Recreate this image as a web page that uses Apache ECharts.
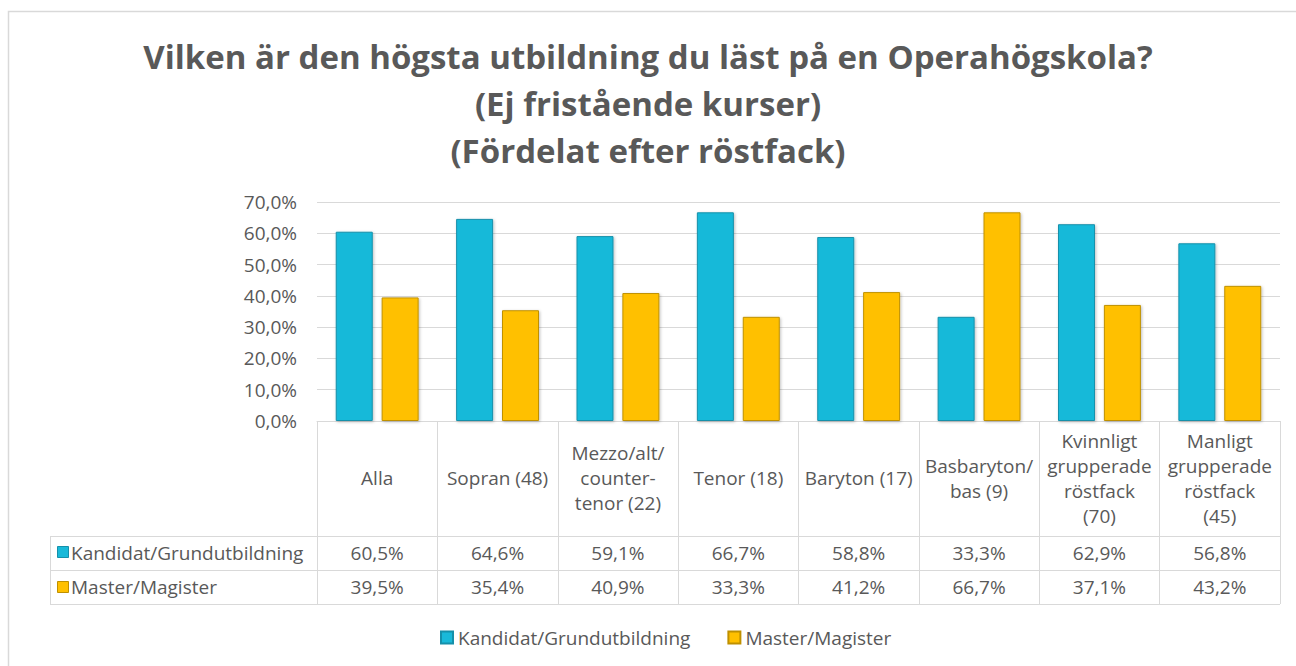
<!DOCTYPE html>
<html>
<head>
<meta charset="utf-8">
<script src="https://cdn.jsdelivr.net/npm/echarts@6/dist/echarts.min.js"></script>
<style>
  html, body { margin: 0; padding: 0; background: #fff; }
  #chart { width: 1296px; height: 666px; }
</style>
</head>
<body>
<div id="chart"></div>
<script>
// kategorier (röstfack)
const categories = [
  'Alla',
  'Sopran (48)',
  'Mezzo/alt/\ncounter-\ntenor (22)',
  'Tenor (18)',
  'Baryton (17)',
  'Basbaryton/\nbas (9)',
  'Kvinnligt\ngrupperade\nröstfack\n(70)',
  'Manligt\ngrupperade\nröstfack\n(45)'
]
const seriesNames = ['Kandidat/Grundutbildning', 'Master/Magister']
const kandidat = [60.5, 64.6, 59.1, 66.7, 58.8, 33.3, 62.9, 56.8]
const master = [39.5, 35.4, 40.9, 33.3, 41.2, 66.7, 37.1, 43.2]
const yTicks = [0, 10, 20, 30, 40, 50, 60, 70]

const FONT = "'Open Sans', 'DejaVu Sans', sans-serif"
const TXT = '#595959'
const LINE = '#d9d9d9'
const CYAN = '#19b9d9'
const CYAN_B = '#1590aa'
const GOLD = '#ffc000'
const GOLD_B = '#bf9000'
const FS = 19

// procent med komma
const pct = (v) => v.toFixed(1).replace('.', ',') + '%'

const chart = echarts.init(document.getElementById('chart'), null, { renderer: 'svg' })

const option = {
  backgroundColor: '#fff',
  textStyle: { fontFamily: FONT },
  animation: false,
  title: {
    text: 'Vilken är den högsta utbildning du läst på en Operahögskola?\n(Ej fristående kurser)\n(Fördelat efter röstfack)',
    left: 'center',
    top: 33,
    padding: [0, 0, 0, 18],
    textStyle: {
      fontFamily: FONT,
      fontSize: 33,
      fontWeight: 'bold',
      lineHeight: 47,
      color: TXT
    }
  },
  legend: {
    data: seriesNames,
    top: 623,
    left: 435,
    icon: 'rect',
    itemWidth: 12,
    itemHeight: 12,
    itemGap: 37,
    textStyle: { fontSize: FS, color: TXT, fontFamily: FONT }
  },
  grid: {
    left: 317,
    right: 16,
    top: 202,
    bottom: 245,
    containLabel: false
  },
  xAxis: [
    {
      type: 'category',
      data: categories,
      axisLine: { show: true, lineStyle: { color: LINE, width: 1 } },
      axisTick: { show: true, interval: 0, length: 183, lineStyle: { color: LINE, width: 1 } },
      axisLabel: {
        interval: 0,
        margin: 57,
        verticalAlign: 'middle',
        fontSize: FS,
        lineHeight: 25,
        color: TXT,
        fontFamily: FONT
      },
      splitLine: { show: false }
    },
    {
      type: 'category',
      position: 'bottom',
      offset: 132,
      data: kandidat.map(pct),
      axisLine: { show: false },
      axisTick: { show: false },
      axisLabel: { interval: 0, margin: 0, verticalAlign: 'middle', fontSize: FS, color: TXT, fontFamily: FONT }
    },
    {
      type: 'category',
      position: 'bottom',
      offset: 166,
      data: master.map(pct),
      axisLine: { show: false },
      axisTick: { show: false },
      axisLabel: { interval: 0, margin: 0, verticalAlign: 'middle', fontSize: FS, color: TXT, fontFamily: FONT }
    }
  ],
  yAxis: {
    type: 'value',
    min: yTicks[0],
    max: yTicks[yTicks.length - 1],
    interval: 10,
    axisLine: { show: false },
    axisTick: { show: false },
    splitLine: { show: true, lineStyle: { color: LINE, width: 1 } },
    axisLabel: {
      margin: 20,
      fontSize: FS,
      color: TXT,
      fontFamily: FONT,
      formatter: (v) => pct(v)
    }
  },
  series: [
    {
      name: seriesNames[0],
      type: 'bar',
      data: kandidat,
      barWidth: 37,
      barGap: '24%',
      itemStyle: {
        color: CYAN,
        borderColor: CYAN_B,
        borderWidth: 1,
        shadowBlur: 3,
        shadowColor: 'rgba(0,0,0,0.25)',
        shadowOffsetX: 1,
        shadowOffsetY: 1
      }
    },
    {
      name: seriesNames[1],
      type: 'bar',
      data: master,
      barWidth: 37,
      itemStyle: {
        color: GOLD,
        borderColor: GOLD_B,
        borderWidth: 1,
        shadowBlur: 3,
        shadowColor: 'rgba(0,0,0,0.25)',
        shadowOffsetX: 1,
        shadowOffsetY: 1
      }
    }
  ],
  // tabellramar och radrubriker
  graphic: [
    { type: 'rect', shape: { x: 8.5, y: 11.5, width: 1400, height: 800 }, style: { fill: 'none', stroke: LINE, lineWidth: 1.5 }, silent: true },
    { type: 'line', shape: { x1: 50, y1: 536.5, x2: 1280, y2: 536.5 }, style: { stroke: LINE, lineWidth: 1 } },
    { type: 'line', shape: { x1: 50, y1: 570.5, x2: 1280, y2: 570.5 }, style: { stroke: LINE, lineWidth: 1 } },
    { type: 'line', shape: { x1: 50, y1: 604.5, x2: 1280, y2: 604.5 }, style: { stroke: LINE, lineWidth: 1 } },
    { type: 'line', shape: { x1: 50.5, y1: 536, x2: 50.5, y2: 604 }, style: { stroke: LINE, lineWidth: 1 } },
    { type: 'rect', shape: { x: 57.5, y: 546.5, width: 11, height: 11 }, style: { fill: CYAN, stroke: CYAN_B, lineWidth: 1 } },
    { type: 'text', x: 71, y: 553, style: { text: seriesNames[0], fontSize: FS, fontFamily: FONT, fill: TXT, verticalAlign: 'middle' } },
    { type: 'rect', shape: { x: 57.5, y: 581.5, width: 11, height: 11 }, style: { fill: GOLD, stroke: GOLD_B, lineWidth: 1 } },
    { type: 'text', x: 71, y: 587, style: { text: seriesNames[1], fontSize: FS, fontFamily: FONT, fill: TXT, verticalAlign: 'middle' } }
  ]
}

chart.setOption(option)
</script>
</body>
</html>
